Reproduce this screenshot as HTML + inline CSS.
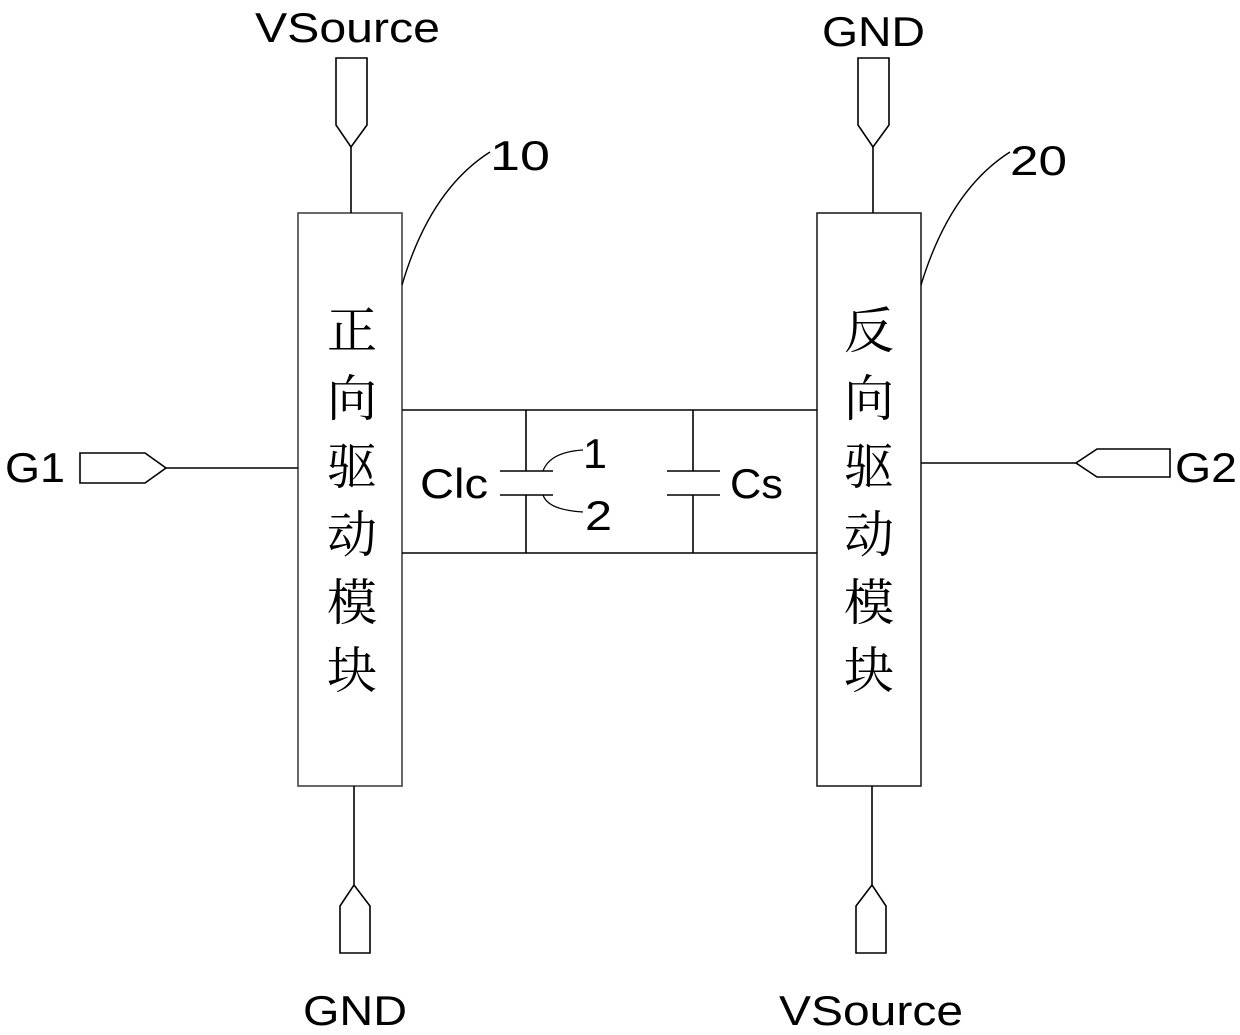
<!DOCTYPE html>
<html><head><meta charset="utf-8"><style>
html,body{margin:0;padding:0;background:#fff;}
svg{display:block;}
text{font-family:"Liberation Sans","DejaVu Sans",sans-serif;fill:#000;}
.cjk{font-family:"Noto Serif CJK SC","Noto Sans CJK SC",serif;}
</style></head><body>
<svg width="1240" height="1035" viewBox="0 0 1240 1035" xmlns="http://www.w3.org/2000/svg">
<g fill="none" stroke="#000" stroke-width="1.6">
<rect x="298" y="213" width="104" height="573" stroke="#444"/>
<rect x="817" y="213" width="104" height="573" stroke="#222"/>
<path d="M336 58 H367 V125 L351 147 L336 125 Z"/>
<line x1="351" y1="147" x2="351" y2="213"/>
<path d="M858 58 H889 V125 L873 147 L858 125 Z"/>
<line x1="873" y1="147" x2="873" y2="213"/>
<line x1="354" y1="786" x2="354" y2="885"/>
<path d="M340 953 V906 L354 885 L370 906 V953 Z"/>
<line x1="872" y1="786" x2="872" y2="885"/>
<path d="M856 953 V906 L872 885 L886 906 V953 Z"/>
<path d="M80 453 H145 L166 468 L145 483 H80 Z"/>
<line x1="166" y1="468" x2="298" y2="468"/>
<path d="M1170 449 H1097 L1076 463 L1097 477 H1170 Z"/>
<line x1="921" y1="463" x2="1076" y2="463"/>
<line x1="402" y1="410" x2="817" y2="410"/>
<line x1="402" y1="553" x2="817" y2="553"/>
<line x1="526" y1="410" x2="526" y2="471"/>
<line x1="500" y1="471" x2="553" y2="471"/>
<line x1="500" y1="495" x2="553" y2="495"/>
<line x1="526" y1="495" x2="526" y2="553"/>
<line x1="693" y1="410" x2="693" y2="471"/>
<line x1="667" y1="471" x2="720" y2="471"/>
<line x1="667" y1="495" x2="720" y2="495"/>
<line x1="693" y1="495" x2="693" y2="553"/>
<path d="M543 471 Q550 452 583 450" stroke-width="1.2"/>
<path d="M543 495 Q548 510 583 512" stroke-width="1.2"/>
<path d="M402 285 Q430 190 490 152" stroke-width="1.4"/>
<path d="M921 285 Q950 190 1010 152" stroke-width="1.4"/>
</g>
<g font-size="42">
<text x="255" y="42" textLength="185" lengthAdjust="spacingAndGlyphs">VSource</text>
<text x="822" y="46" textLength="103" lengthAdjust="spacingAndGlyphs">GND</text>
<text x="303" y="1025" textLength="104" lengthAdjust="spacingAndGlyphs">GND</text>
<text x="779" y="1025" textLength="184" lengthAdjust="spacingAndGlyphs">VSource</text>
<text x="5" y="482" textLength="60" lengthAdjust="spacingAndGlyphs">G1</text>
<text x="1175" y="482" textLength="62" lengthAdjust="spacingAndGlyphs">G2</text>
<text x="420" y="498" textLength="68" lengthAdjust="spacingAndGlyphs">Clc</text>
<text x="730" y="498" textLength="53" lengthAdjust="spacingAndGlyphs">Cs</text>
<text x="583" y="468" textLength="24" lengthAdjust="spacingAndGlyphs">1</text>
<text x="585" y="530" textLength="27" lengthAdjust="spacingAndGlyphs">2</text>
<text x="490" y="170" textLength="60" lengthAdjust="spacingAndGlyphs">10</text>
<text x="1010" y="175" textLength="57" lengthAdjust="spacingAndGlyphs">20</text>
</g>
<g font-size="50" text-anchor="middle">
<text class="cjk" x="352" y="348">正</text>
<text class="cjk" x="352" y="416">向</text>
<text class="cjk" x="352" y="484">驱</text>
<text class="cjk" x="352" y="552">动</text>
<text class="cjk" x="352" y="620">模</text>
<text class="cjk" x="352" y="688">块</text>
<text class="cjk" x="869" y="348">反</text>
<text class="cjk" x="869" y="416">向</text>
<text class="cjk" x="869" y="484">驱</text>
<text class="cjk" x="869" y="552">动</text>
<text class="cjk" x="869" y="620">模</text>
<text class="cjk" x="869" y="688">块</text>
</g>
</svg>
</body></html>
